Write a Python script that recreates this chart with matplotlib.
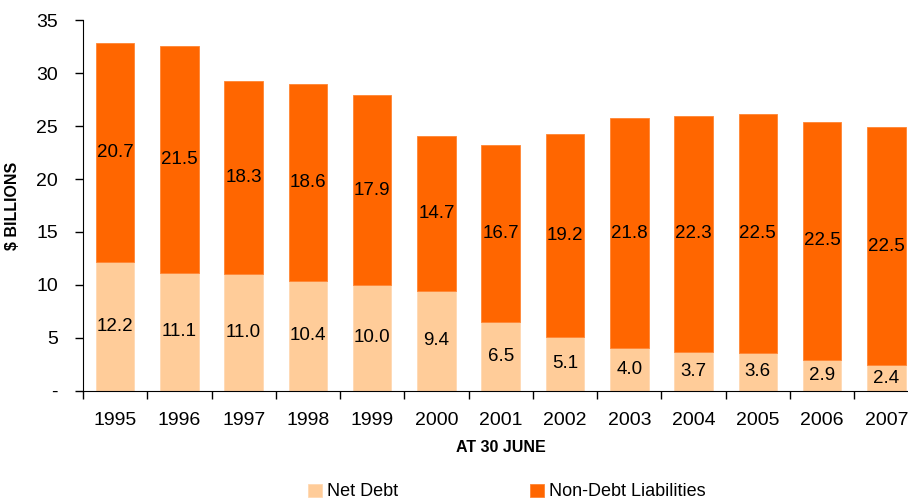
import matplotlib.pyplot as plt
import numpy as np

# Data
years = ['1995', '1996', '1997', '1998', '1999', '2000', '2001',
         '2002', '2003', '2004', '2005', '2006', '2007']
net_debt = [12.2, 11.1, 11.0, 10.4, 10.0, 9.4, 6.5, 5.1, 4.0, 3.7, 3.6, 2.9, 2.4]
non_debt = [20.7, 21.5, 18.3, 18.6, 17.9, 14.7, 16.7, 19.2, 21.8, 22.3, 22.5, 22.5, 22.5]

light = '#FFCC99'
dark = '#FF6600'

plt.rcParams['font.family'] = ['Liberation Sans', 'DejaVu Sans']

fig = plt.figure(figsize=(9.08, 4.99), dpi=100)
# axis runs past the right edge of the figure, as in the original
ax = fig.add_axes([83 / 908, 108.3 / 499, 835.5 / 908, 370.4 / 499])

x = np.arange(len(years))
b1 = ax.bar(x, net_debt, width=0.6, color=light, edgecolor='#FFD9B3', linewidth=0.6, label='Net Debt')
b2 = ax.bar(x, non_debt, width=0.6, bottom=net_debt, color=dark, edgecolor='#FF8533',
            linewidth=0.6, label='Non-Debt Liabilities')

ax.bar_label(b1, labels=[f'{v:.1f}' for v in net_debt], label_type='center', fontsize=13.5)
ax.bar_label(b2, labels=[f'{v:.1f}' for v in non_debt], label_type='center', fontsize=13.5)

ax.set_xlim(-0.5, len(years) - 0.5)
ax.set_ylim(0, 35)

ax.set_yticks(range(0, 36, 5))
ax.set_yticklabels(['-'] + [str(v) for v in range(5, 36, 5)])
ax.tick_params(axis='y', length=6, width=1, pad=12, labelsize=14)

ax.set_xticks(x)
ax.set_xticklabels(years)
ax.set_xticks(np.arange(len(years) + 1) - 0.5, minor=True)
ax.tick_params(axis='x', which='major', length=0, pad=15, labelsize=14)
ax.tick_params(axis='x', which='minor', length=6, width=1)

for s in ['top', 'right']:
    ax.spines[s].set_visible(False)

ax.set_ylabel('$ BILLIONS', fontsize=11.5, fontweight='bold', labelpad=12)
ax.set_xlabel('AT 30 JUNE', fontsize=11.5, fontweight='bold', labelpad=8)

fig.legend(handles=[b1, b2], loc='center', bbox_to_anchor=(507 / 908, 1 - 492 / 499),
           ncol=2, frameon=False, fontsize=13, handlelength=0.75, handleheight=0.75,
           handletextpad=0.3, columnspacing=7.3)

fig.savefig('out.png', dpi=100)
